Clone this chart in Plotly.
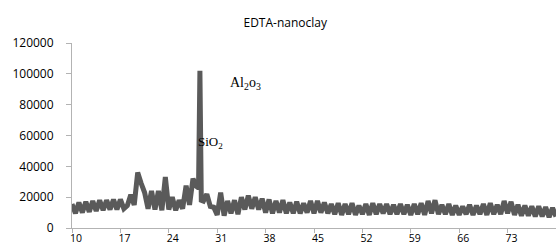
import plotly.graph_objects as go

two_theta = [
    10.0, 10.5, 11.0, 11.5, 12.0, 12.5, 13.0, 13.5, 14.0, 14.5,
    15.0, 15.5, 16.0, 16.5, 17.0, 17.5, 18.0, 18.5, 19.0, 19.5,
    20.0, 20.5, 21.0, 21.5, 22.0, 22.5, 23.0, 23.5, 24.0, 24.5,
    25.0, 25.5, 26.0, 26.5, 27.0, 27.5, 28.0, 28.3, 28.5, 28.7, 29.0, 29.5,
    30.0, 30.5, 31.0, 31.5, 32.0, 32.5, 33.0, 33.5, 34.0, 34.5,
    35.0, 35.5, 36.0, 36.5, 37.0, 37.5, 38.0, 38.5, 39.0, 39.5,
    40.0, 40.5, 41.0, 41.5, 42.0, 42.5, 43.0, 43.5, 44.0, 44.5,
    45.0, 45.5, 46.0, 46.5, 47.0, 47.5, 48.0, 48.5, 49.0, 49.5,
    50.0, 50.5, 51.0, 51.5, 52.0, 52.5, 53.0, 53.5, 54.0, 54.5,
    55.0, 55.5, 56.0, 56.5, 57.0, 57.5, 58.0, 58.5, 59.0, 59.5,
    60.0, 60.5, 61.0, 61.5, 62.0, 62.5, 63.0, 63.5, 64.0, 64.5,
    65.0, 65.5, 66.0, 66.5, 67.0, 67.5, 68.0, 68.5, 69.0, 69.5,
    70.0, 70.5, 71.0, 71.5, 72.0, 72.5, 73.0, 73.5, 74.0, 74.5,
    75.0, 75.5, 76.0, 76.5, 77.0, 77.5, 78.0, 78.5, 79.0, 79.5,
    80.0,
]

intensity = [
    15500, 9500, 16500, 10000, 17000, 10500, 17500, 11000, 18000, 11500,
    18000, 12000, 18500, 12000, 18500, 12500, 14500, 21500, 15000, 36000,
    29000, 23000, 12500, 24000, 12000, 24000, 11500, 33000, 12000, 20000,
    11500, 18000, 12500, 27500, 15000, 32000, 27000, 26000, 102000, 18000, 17500, 22000,
    14000, 13500, 8500, 23000, 8000, 17500, 9500, 18000, 9000, 20000,
    12000, 21000, 12500, 20000, 12000, 19000, 10000, 18500, 9500, 17500,
    10000, 18000, 9500, 16500, 9500, 17000, 9500, 16000, 10000, 17500,
    9500, 17500, 10000, 16500, 9500, 15500, 9000, 16000, 8500, 15500,
    9000, 16000, 8500, 14500, 9000, 15500, 8500, 16000, 9000, 15500,
    9500, 15500, 9000, 15000, 9000, 15500, 9000, 15000, 8500, 15500,
    9000, 16000, 8500, 17500, 9500, 18000, 9000, 15000, 9000, 15500,
    8500, 14500, 8500, 14000, 9000, 15000, 8500, 14500, 9000, 15500,
    8500, 16000, 9000, 15000, 9000, 17500, 9500, 17000, 8500, 15000,
    8000, 14500, 8000, 14000, 7500, 14000, 7500, 13500, 7000, 13000,
    7500,
]

assert len(two_theta) == len(intensity)

x_ticks = [10, 17, 24, 31, 38, 45, 52, 59, 66, 73]
y_ticks = [0, 20000, 40000, 60000, 80000, 100000, 120000]

title_text = "EDTA-nanoclay"
label_al = "Al<sub>2</sub>o<sub>3</sub>"
label_si = "SiO<sub>2</sub>"

fig = go.Figure()
fig.add_trace(go.Scatter(
    x=two_theta, y=intensity, mode="lines",
    line=dict(color="#5a5a5a", width=5),
    showlegend=False, hoverinfo="skip", cliponaxis=False,
))

fig.add_annotation(x=35.1, y=93500, xref="x", yref="y", text=label_al,
                   showarrow=False, font=dict(family="Liberation Serif", size=14, color="#000000"))
fig.add_annotation(x=30.0, y=55500, xref="x", yref="y", text=label_si,
                   showarrow=False, font=dict(family="Liberation Serif", size=13, color="#000000"))

fig.update_layout(
    width=556, height=244,
    margin=dict(l=72, r=0, t=43, b=16, autoexpand=False),
    paper_bgcolor="white", plot_bgcolor="white",
    title=dict(text=title_text, x=0.513, xanchor="center", y=0.905, yanchor="middle",
               automargin=False,
               font=dict(family="Open Sans", size=12, color="#000000")),
    xaxis=dict(range=[10, 80], tickmode="array", tickvals=x_ticks,
               ticktext=[str(v) for v in x_ticks], automargin=False,
               showgrid=False, zeroline=False, showline=True, linecolor="#b3b3b3", linewidth=1,
               ticks="outside", ticklen=4, tickcolor="#b3b3b3", ticklabelshift=4,
               ticklabelstandoff=-4,
               tickfont=dict(family="Open Sans", size=10.5, color="#000000")),
    yaxis=dict(range=[0, 120000], tickmode="array", tickvals=y_ticks,
               ticktext=[str(v) for v in y_ticks], automargin=False,
               showgrid=False, zeroline=False, showline=True, linecolor="#b3b3b3", linewidth=1,
               ticks="outside", ticklen=5, tickcolor="#b3b3b3", ticklabelstandoff=10,
               tickfont=dict(family="Open Sans", size=12, color="#000000")),
)

fig.write_html(
    "out.html",
    config={"displayModeBar": False, "staticPlot": True},
    post_script="document.body.style.margin='0';document.body.style.overflow='hidden';",
)
